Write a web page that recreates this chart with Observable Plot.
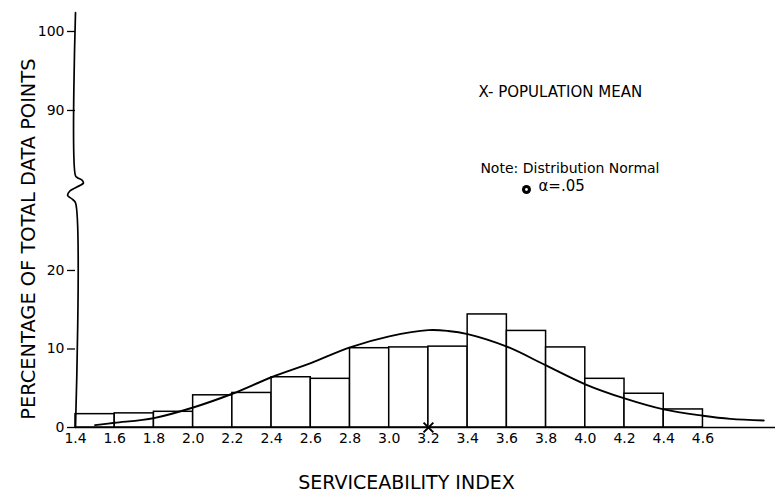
<!DOCTYPE html>
<html><head><meta charset="utf-8">
<script src="https://cdn.jsdelivr.net/npm/d3@7"></script>
<script src="https://cdn.jsdelivr.net/npm/@observablehq/plot@0.6"></script>
<style>body{margin:0;background:#fff} svg{display:block}</style>
</head><body><div id="chart"></div>
<script>
// Histogram bins (serviceability index) and percentage of total data points
const binStart = [1.4, 1.6, 1.8, 2.0, 2.2, 2.4, 2.6, 2.8, 3.0, 3.2, 3.4, 3.6, 3.8, 4.0, 4.2, 4.4];
const binEnd   = [1.6, 1.8, 2.0, 2.2, 2.4, 2.6, 2.8, 3.0, 3.2, 3.4, 3.6, 3.8, 4.0, 4.2, 4.4, 4.6];
const pct      = [1.7, 1.8, 2.0, 4.1, 4.4, 6.4, 6.2, 10.1, 10.2, 10.3, 14.4, 12.3, 10.2, 6.2, 4.3, 2.3];

// Fitted normal curve
const curveX = [1.5, 1.6, 1.8, 2.0, 2.2, 2.4, 2.6, 2.8, 3.0, 3.2, 3.3, 3.4, 3.6, 3.8, 4.0, 4.2, 4.4, 4.6, 4.74, 4.91];
const curveY = [0.3, 0.6, 1.2, 2.55, 4.3, 6.4, 8.2, 10.2, 11.6, 12.4, 12.3, 11.9, 10.3, 7.9, 5.5, 3.7, 2.3, 1.5, 1.1, 0.9];

const meanX = 3.2;

const xTicks = [1.4, 1.6, 1.8, 2.0, 2.2, 2.4, 2.6, 2.8, 3.0, 3.2, 3.4, 3.6, 3.8, 4.0, 4.2, 4.4, 4.6];
const yTicks = [0, 10, 20, 90, 100];

// axis-break squiggle (y values in the broken gap, x offsets from the axis)
const breakY  = [46, 48.5, 51.5, 54.5, 57.5, 60.5, 62.5, 64.5, 66];
const breakDx = [0, -0.015, -0.04, -0.03, 0.005, 0.04, 0.035, 0.01, 0];

const xLabel = "SERVICEABILITY INDEX";
const yLabel = "PERCENTAGE OF TOTAL DATA POINTS";
const meanNote = "X- POPULATION MEAN";
const distNote = "Note: Distribution Normal";
const alphaNote = "α=.05";

// broken y axis: 0–25 and 85–103 at full scale, 25–85 compressed
const brk = v => v <= 25 ? v : v <= 85 ? 25 + (v - 25) * 0.1725 : 35.35 + (v - 85) * 1.006;

const bars = binStart.map((x1, i) => ({x1, x2: binEnd[i], y: pct[i]}));
const curve = curveX.map((x, i) => ({x, y: curveY[i]}));
const axisLine = [{x: 1.4, y: 0}]
  .concat(breakY.map((y, i) => ({x: 1.4 + breakDx[i], y})))
  .concat([{x: 1.4, y: 102.4}]);

const font = "'DejaVu Sans', sans-serif";

const chart = Plot.plot({
  width: 775,
  height: 493,
  marginLeft: 75,
  marginRight: 0,
  marginTop: 7,
  marginBottom: 66,
  style: {fontFamily: font, background: "white", color: "black"},
  x: {domain: [1.4, 4.97], range: [75, 775]},
  y: {transform: brk, domain: [0, brk(103)], range: [427, 7.3]},
  marks: [
    Plot.rectY(bars, {x1: "x1", x2: "x2", y: "y", fill: "white", stroke: "black", strokeWidth: 1.5}),
    Plot.ruleY([0], {stroke: "black", strokeWidth: 1.6}),
    Plot.line(axisLine, {x: "x", y: "y", stroke: "black", strokeWidth: 1.7, curve: "catmull-rom"}),
    Plot.line(curve, {x: "x", y: "y", stroke: "black", strokeWidth: 1.9, curve: "catmull-rom"}),
    Plot.dot([meanX], {x: d => d, y: () => 0, symbol: "times", r: 4.5, stroke: "black", strokeWidth: 2}),
    Plot.axisY(yTicks, {anchor: "left", tickSize: 8, tickPadding: 3, fontSize: 14, label: null, strokeWidth: 1.3}),
    Plot.axisX(xTicks, {anchor: "bottom", tickSize: 0, tickPadding: 6, fontSize: 14, label: null, tickFormat: d => d.toFixed(1)}),
    Plot.text([xLabel], {x: () => 3.088, y: () => -7, text: d => d, fontSize: 19, fill: "black"}),
    Plot.text([yLabel], {x: () => 1.4, y: () => 24, dx: -47, rotate: -90, text: d => d, fontSize: 19.4, fill: "black"}),
    Plot.text([meanNote], {x: () => 3.455, y: () => 92.3, text: d => d, textAnchor: "start", fontSize: 15, fill: "black"}),
    Plot.text([distNote], {x: () => 3.465, y: () => 71.3, text: d => d, textAnchor: "start", fontSize: 14, fill: "black"}),
    Plot.dot([alphaNote], {x: () => 3.70, y: () => 55.8, r: 4.5, fill: "black"}),
    Plot.dot([alphaNote], {x: () => 3.70, y: () => 55.8, r: 1.4, fill: "white"}),
    Plot.text([alphaNote], {x: () => 3.761, y: () => 58.0, text: d => d, textAnchor: "start", fontSize: 15, fill: "black"})
  ]
});
document.getElementById("chart").appendChild(chart);
</script>
</body></html>
